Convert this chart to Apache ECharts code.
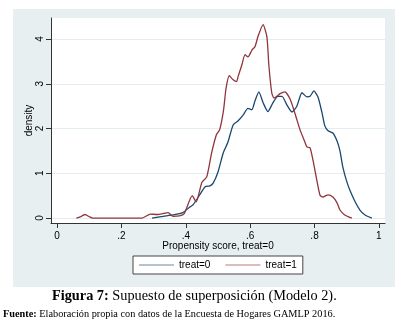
<!DOCTYPE html>
<html><head><meta charset="utf-8">
<script src="https://cdn.jsdelivr.net/npm/echarts@6/dist/echarts.min.js"></script>
<style>html,body{margin:0;padding:0;background:#fff}#c{width:405px;height:331px}</style>
</head><body><div id="c"></div>
<script>
// treat=0 (blue)
const treat0X = [0.295,0.33,0.36,0.39,0.413,0.423,0.444,0.46,0.475,0.485,0.5,0.516,0.531,0.547,0.562,0.578,0.593,0.605,0.615,0.627,0.64,0.655,0.671,0.686,0.699,0.714,0.73,0.745,0.761,0.776,0.786,0.798,0.811,0.823,0.832,0.842,0.857,0.87,0.879,0.888,0.9,0.91,0.925,0.941,0.957,0.978];
const treat0Y = [0,0.04,0.07,0.12,0.25,0.3,0.53,0.7,0.72,0.78,1.03,1.45,1.7,2.08,2.17,2.3,2.45,2.42,2.62,2.82,2.58,2.38,2.58,2.72,2.72,2.53,2.37,2.5,2.8,2.71,2.72,2.84,2.7,2.36,2.06,1.95,1.9,1.72,1.5,1.14,0.82,0.62,0.38,0.18,0.07,0];
// treat=1 (red)
const treat1X = [0.06,0.075,0.087,0.10,0.11,0.264,0.29,0.31,0.335,0.345,0.36,0.38,0.395,0.42,0.432,0.45,0.465,0.48,0.495,0.505,0.517,0.525,0.535,0.547,0.558,0.562,0.574,0.584,0.593,0.606,0.615,0.624,0.64,0.652,0.658,0.667,0.674,0.683,0.693,0.708,0.724,0.74,0.755,0.77,0.776,0.786,0.795,0.807,0.817,0.826,0.842,0.857,0.87,0.879,0.894,0.916];
const treat1Y = [0,0.04,0.08,0.03,0,0,0.09,0.08,0.11,0.12,0.04,0.05,0.1,0.5,0.36,0.8,0.92,1.45,1.86,1.97,2.4,2.9,3.18,3.09,3.05,3.15,3.42,3.65,3.6,3.76,3.83,4.05,4.32,4.05,3.42,2.8,2.68,2.72,2.78,2.82,2.66,2.32,1.97,1.7,1.59,1.57,1.3,0.85,0.51,0.47,0.52,0.47,0.34,0.18,0.07,0];
const xTicks = [0,0.2,0.4,0.6,0.8,1];
const yTicks = [0,1,2,3,4];
const seriesNames = ['treat=0','treat=1'];
const colors = ['#1a476f','#90353b'];

const zip = (xs, ys) => xs.map((x,i)=>[x, ys[i]]);
const chart = echarts.init(document.getElementById('c'), null, {renderer:'canvas'});
const fmtX = v => v===0?'0':(v===1?'1':String(+v.toFixed(1)).replace(/^0/,''));
chart.setOption({
  animation:false,
  backgroundColor:'#fff',
  graphic:[
    {type:'rect', z:-10, shape:{x:13,y:9,width:382,height:278}, style:{fill:'#e8eff1'}},
    {type:'text', left:52, top:289, style:{text:'{b|Figura 7:} Supuesto de superposición (Modelo 2).', font:'14.3px "Liberation Serif"', fill:'#000', rich:{b:{fontWeight:'bold', fontFamily:'Liberation Serif', fontSize:14.3, fill:'#000'}}}},
    {type:'text', left:3, top:309, style:{text:'{b|Fuente:} Elaboración propia con datos de la Encuesta de Hogares GAMLP 2016.', font:'10.3px "Liberation Serif"', fill:'#000', rich:{b:{fontWeight:'bold', fontFamily:'Liberation Serif', fontSize:10.3, fill:'#000'}}}}
  ],
  grid:{left:51, top:18, width:334, height:205, show:true, backgroundColor:'#fff', borderWidth:0},
  xAxis:{type:'value', min:-0.019, max:1.019,
    name:'Propensity score, treat=0', nameLocation:'middle', nameGap:18, nameMoveOverlap:false,
    nameTextStyle:{fontFamily:'Liberation Sans', fontSize:10, color:'#000'},
    axisLine:{show:true, onZero:false, lineStyle:{color:'#333', width:1}},
    axisTick:{show:true, length:5, customValues:xTicks, lineStyle:{color:'#333'}},
    axisLabel:{customValues:xTicks, formatter:fmtX, fontFamily:'Liberation Sans', fontSize:10, color:'#000', margin:8},
    splitLine:{show:false}},
  yAxis:{type:'value', min:-0.11, max:4.47,
    name:'density', nameLocation:'middle', nameGap:17, nameRotate:90, nameMoveOverlap:false,
    nameTextStyle:{fontFamily:'Liberation Sans', fontSize:10, color:'#000'},
    axisLine:{show:true, onZero:false, lineStyle:{color:'#333', width:1}},
    axisTick:{show:true, length:5, customValues:yTicks, lineStyle:{color:'#333'}},
    axisLabel:{customValues:yTicks, rotate:90, fontFamily:'Liberation Sans', fontSize:10, color:'#000', margin:6},
    splitLine:{show:false}},
  legend:{left:133, top:256, orient:'horizontal',
    data:seriesNames.map((n,i)=>({name:n, icon:'rect', itemStyle:{color:colors[i], opacity:0.65}})),
    backgroundColor:'#fff', borderColor:'#444', borderWidth:1, borderRadius:0,
    padding:[4,6], itemWidth:35, itemHeight:1.2, itemGap:15,
    textStyle:{fontFamily:'Liberation Sans', fontSize:10, color:'#000'}},
  series:[
    {name:seriesNames[0], type:'line', data:zip(treat0X,treat0Y), showSymbol:false, symbol:'none', smooth:0.2,
     lineStyle:{color:colors[0], width:1.3}, itemStyle:{color:colors[0]},
     markLine:{silent:true, symbol:'none', label:{show:false}, lineStyle:{color:'#e3ecee', width:1, type:'solid'},
       data:yTicks.map(v=>({yAxis:v})), z:0}},
    {name:seriesNames[1], type:'line', data:zip(treat1X,treat1Y), showSymbol:false, symbol:'none', smooth:0.2,
     lineStyle:{color:colors[1], width:1.3}, itemStyle:{color:colors[1]}}
  ]
});
</script></body></html>
